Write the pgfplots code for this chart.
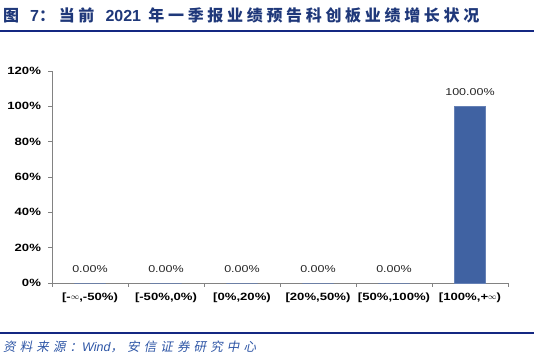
\documentclass[border=0pt]{standalone}
\usepackage{pgfplots}
\pgfplotsset{compat=1.18}
\usepackage{fontspec}
\setmainfont{Liberation Sans}
\newfontfamily\cjktitle[LetterSpace=23]{Noto Sans CJK SC}
\newfontfamily\cjksrc[LetterSpace=33,FakeSlant=0.2]{Noto Sans CJK SC}
\newfontfamily\latsrc{Liberation Sans}
\newfontfamily\chartfont[FakeStretch=1.25]{Liberation Sans}
\definecolor{titleblue}{RGB}{31,56,122}
\definecolor{lineblue}{RGB}{20,40,130}
\definecolor{srcblue}{RGB}{45,85,165}
\definecolor{barblue}{RGB}{64,98,162}
\definecolor{axgray}{RGB}{130,130,130}
\newcommand{\inft}{\raisebox{1.2pt}{\fontsize{8.5}{9}\selectfont$\infty$}}
\begin{document}
\begin{tikzpicture}[x=1pt,y=1pt]
\useasboundingbox (0,0) rectangle (534,362);
% title
\node[anchor=west,inner sep=0pt,text=titleblue,font=\fontsize{16}{18}\selectfont\bfseries] at (3,347)
 {\cjktitle 图 \textbf{\latsrc 7}：当前 \textbf{\latsrc 2021} 年一季报业绩预告科创板业绩增长状况};
\draw[lineblue,line width=1.3pt] (0,331) -- (534,331);
\draw[lineblue,line width=1.3pt] (0,29) -- (534,29);
\node[anchor=west,inner sep=0pt,text=srcblue,font=\fontsize{12.5}{14}\selectfont] at (3,15)
 {\cjksrc 资料来源：{\latsrc\itshape Wind}，安信证券研究中心};
\begin{axis}[
  at={(52pt,79pt)}, anchor=south west,
  scale only axis, width=456pt, height=212pt,
  xmin=-0.5, xmax=5.5, ymin=0, ymax=120,
  enlargelimits=false,
  axis x line*=bottom, axis y line*=left,
  axis line style={axgray,line width=0.8pt},
  xtick={0,1,2,3,4,5},
  xticklabels={{[-\inft,-50\%)},{[-50\%,0\%)},{[0\%,20\%)},{[20\%,50\%)},{[50\%,100\%)},{[100\%,+\inft)}},
  major x tick style={draw=none},
  minor xtick={-0.5,0.5,1.5,2.5,3.5,4.5,5.5},
  minor x tick style={axgray,line width=0.8pt},
  xtick align=inside,
  minor tick length=3.5pt,
  ytick={0,20,...,120},
  yticklabel={\pgfmathprintnumber{\tick}\%},
  ytick align=outside,
  major tick length=3.5pt,
  ytick style={axgray,line width=0.8pt},
  tick label style={font=\chartfont\fontsize{10.5}{12}\selectfont\bfseries, text=black},
  /pgf/number format/assume math mode=true,
  yticklabel style={xshift=-4pt},
  xticklabel style={yshift=-3pt},
  ybar, bar width=0.41,
  nodes near coords={\pgfmathprintnumber[fixed,fixed zerofill,precision=2]{\pgfplotspointmeta}\%},
  nodes near coords style={font=\chartfont\fontsize{10}{12}\selectfont, text=black!85, yshift=7pt},
]
\addplot[fill=barblue, draw=barblue!80!white] coordinates {(0,0) (1,0) (2,0) (3,0) (4,0) (5,100)};
\end{axis}
\end{tikzpicture}
\end{document}
